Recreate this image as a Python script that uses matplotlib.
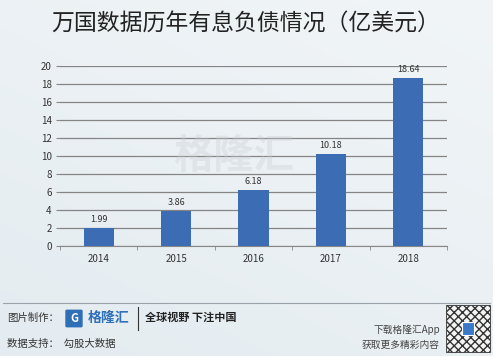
import numpy as np
import matplotlib.pyplot as plt
from matplotlib.patches import Rectangle, FancyBboxPatch

plt.rcParams['font.family'] = ['Noto Sans CJK SC', 'DejaVu Sans']

# data
years = ['2014', '2015', '2016', '2017', '2018']
debt = [1.99, 3.86, 6.18, 10.18, 18.64]
yticks = list(range(0, 21, 2))

W, H = 493, 356
fig = plt.figure(figsize=(W / 100, H / 100), dpi=100)

# background gradient
bg = fig.add_axes([0, 0, 1, 1])
gx = np.linspace(0, 1, 200)
gy = np.linspace(0, 1, 200)
GX, GY = np.meshgrid(gx, gy)
grad = 0.6 * GY + 0.4 * GX
bg.imshow(grad, cmap=plt.matplotlib.colors.LinearSegmentedColormap.from_list(
    'bg', ['#E4ECF1', '#F1F5F7']), aspect='auto', extent=[0, 1, 0, 1], origin='lower')
bg.set_xlim(0, 1)
bg.set_ylim(0, 1)
bg.axis('off')

# chart area (pixel coords -> figure fractions)
left, right = 60 / W, 447 / W
bottom, top = 1 - 245.5 / H, 1 - 66 / H
ax = fig.add_axes([left, bottom, right - left, top - bottom])
ax.patch.set_alpha(0)

x = np.arange(len(years))
bars = ax.bar(x, debt, width=0.39, color='#3C6CB4', zorder=3)
for xi, v in zip(x, debt):
    ax.text(xi, v + 0.45, f'{v:.2f}', ha='center', va='bottom', fontsize=6.5, color='#333333')

ax.set_ylim(0, 20)
ax.set_xlim(-0.5, len(years) - 0.5)
ax.set_yticks(yticks)
ax.set_yticklabels([str(t) for t in yticks], fontsize=7, color='#333333')
ax.set_xticks(x)
ax.set_xticklabels(years, fontsize=7, color='#333333')
ax.set_xticks(np.arange(-0.5, len(years)), minor=True)
ax.tick_params(axis='x', which='major', length=0, pad=6)
ax.tick_params(axis='x', which='minor', length=3, color='#888888')
ax.tick_params(axis='y', length=3, color='#888888', pad=3)
ax.yaxis.grid(True, color='#858585', linewidth=0.9, zorder=0)
for s in ['top', 'right', 'left']:
    ax.spines[s].set_visible(False)
ax.spines['bottom'].set_color('#888888')

# watermark
fig.text(233 / W, 1 - 156 / H, '格隆汇', fontsize=29, color='#C8CED4', alpha=0.35,
         ha='center', va='center', fontweight='bold', zorder=1)

# title
fig.text(245.5 / W, 1 - 24 / H, '万国数据历年有息负债情况（亿美元）', fontsize=16.5,
         ha='center', va='center', color='#222222')

# footer
fig.add_artist(plt.Line2D([3 / W, 490 / W], [1 - 303 / H, 1 - 303 / H],
                          color='#9AA3AA', linewidth=0.8))
fig.text(7 / W, 1 - 318 / H, '图片制作：', fontsize=7.5, va='center', color='#333333')
fig.add_artist(FancyBboxPatch((67 / W, 1 - 326 / H), 14 / W, 15 / H,
                              boxstyle='round,pad=0.002', color='#2F6FB8',
                              transform=fig.transFigure))
fig.text(74 / W, 1 - 318.5 / H, 'G', fontsize=8, fontweight='bold', color='white',
         ha='center', va='center')
fig.text(88 / W, 1 - 318 / H, '格隆汇', fontsize=10, fontweight='bold', va='center', color='#2F6FB8')
fig.add_artist(plt.Line2D([138 / W, 138 / W], [1 - 307 / H, 1 - 330 / H],
                          color='#333333', linewidth=0.8))
fig.text(145 / W, 1 - 317 / H, '全球视野 下注中国', fontsize=8, fontweight='bold',
         va='center', color='#222222')
fig.text(7 / W, 1 - 344 / H, '数据支持：  勾股大数据', fontsize=7.5, va='center', color='#333333')
fig.text(440 / W, 1 - 330 / H, '下载格隆汇App', fontsize=7, ha='right', va='center', color='#444444')
fig.text(440 / W, 1 - 345 / H, '获取更多精彩内容', fontsize=7, ha='right', va='center', color='#444444')

# QR code placeholder
fig.add_artist(Rectangle((446 / W, 1 - 352 / H), 44 / W, 47 / H, facecolor='#F4F4F4',
                         edgecolor='#333333', hatch='xxxx', linewidth=0.6,
                         transform=fig.transFigure))
fig.add_artist(Rectangle((462 / W, 1 - 335 / H), 12 / W, 13 / H, facecolor='#3A78C8',
                         edgecolor='white', linewidth=0.8, transform=fig.transFigure))

fig.savefig('out.png', dpi=100)
